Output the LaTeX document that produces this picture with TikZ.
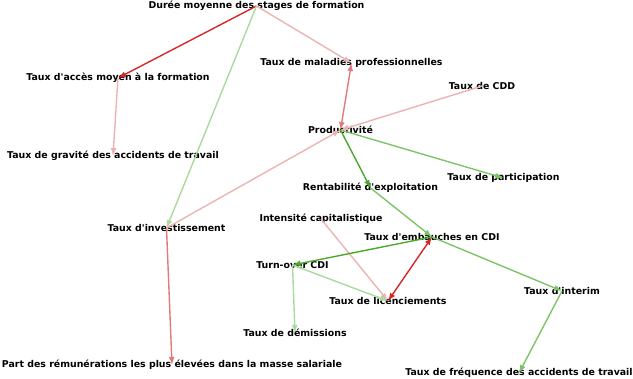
\documentclass[tikz,border=0pt]{standalone}
\usepackage{fontspec}
\setmainfont{DejaVu Sans}
\usetikzlibrary{arrows.meta}
\definecolor{rdark}{HTML}{D62728}
\definecolor{rmid}{HTML}{E07B7B}
\definecolor{rlight}{HTML}{EDB3B3}
\definecolor{gdark}{HTML}{4BAA2C}
\definecolor{gmid}{HTML}{7DC467}
\definecolor{glight}{HTML}{ABD99E}
\newcommand{\ap}{\textquotesingle}
\tikzset{
  lab/.style={font=\fontsize{9.4}{11}\selectfont\bfseries, inner sep=0pt},
  link/.style={line width=1.4pt, -{Latex[length=8pt,width=6pt]}},
  both/.style={line width=1.4pt, {Latex[length=8pt,width=6pt]}-{Latex[length=8pt,width=6pt]}}
}
\begin{document}
\begin{tikzpicture}[x=1pt,y=-1pt]
                    \useasboundingbox (0,0) rectangle (633,379);
                    % Top
                    \node[lab] (Dur) at (256.5,6) {Durée moyenne des stages de formation};
                    \node[lab] (Acc) at (118,78) {Taux d\ap accès moyen à la formation};
                    \node[lab] (Grav) at (113,156) {Taux de gravité des accidents de travail};
                    \node[lab] (Mal) at (351.5,63) {Taux de maladies professionnelles};
                    \node[lab] (CDD) at (482,86) {Taux de CDD};
                    % Middle
                    \node[lab] (Prod) at (340.5,130) {Productivité};
                    \node[lab] (Rent) at (370.5,188) {Rentabilité d\ap exploitation};
                    \node[lab] (Part) at (503.5,178) {Taux de participation};
                    \node[lab] (Inv) at (166.5,228) {Taux d\ap investissement};
                    \node[lab] (Cap) at (321,219) {Intensité capitalistique};
                    \node[lab] (Emb) at (432,237) {Taux d\ap embauches en CDI};
                    % Bottom
                    \node[lab] (Turn) at (292.5,265) {Turn-over CDI};
                    \node[lab] (Lic) at (388,301) {Taux de licenciements};
                    \node[lab] (Inter) at (562,291) {Taux d\ap interim};
                    \node[lab] (Dem) at (295,333) {Taux de démissions};
                    \node[lab] (Rem) at (172,365) {Part des rémunérations les plus élevées dans la masse salariale};
                    \node[lab] (Freq) at (519,373) {Taux de fréquence des accidents de travail};
                    % Links
                    \draw [link,rdark] (Dur.center)--(Acc.center);
                    \draw [link,rlight] (Dur.center)--(Mal.center);
                    \draw [link,glight] (Dur.center)--(Inv.center);
                    \draw [link,rlight] (Acc.center)--(Grav.center);
                    \draw [both,rmid] (Mal.center)--(Prod.center);
                    \draw [link,rlight] (CDD.center)--(Prod.center);
                    \draw [link,rlight] (Inv.center)--(Prod.center);
                    \draw [link,gdark] (Prod.center)--(Rent.center);
                    \draw [link,gmid] (Prod.center)--(Part.center);
                    \draw [link,gmid] (Rent.center)--(Emb.center);
                    \draw [link,rmid] (Inv.center)--(Rem.center);
                    \draw [link,rlight] (Cap.center)--(Lic.center);
                    \draw [both,rdark] (Emb.center)--(Lic.center);
                    \draw [link,gdark] (Emb.center)--(Turn.center);
                    \draw [link,glight] (Turn.center)--(Lic.center);
                    \draw [link,glight] (Turn.center)--(Dem.center);
                    \draw [link,gmid] (Emb.center)--(Inter.center);
                    \draw [link,gmid] (Inter.center)--(Freq.center);
\end{tikzpicture}
\end{document}
